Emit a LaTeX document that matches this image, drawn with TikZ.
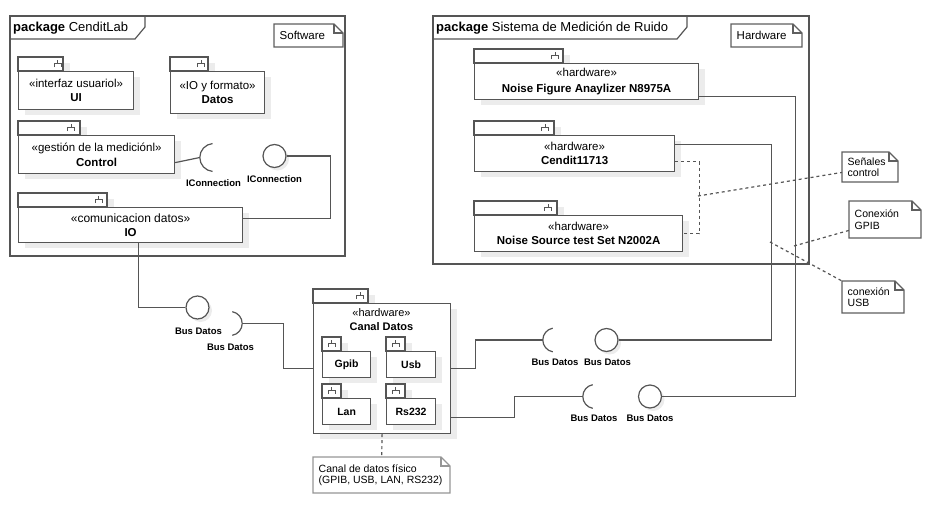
\documentclass[tikz,border=0pt]{standalone}
\usepackage{fontspec}
\setmainfont{Liberation Sans}
\usetikzlibrary{calc}
\definecolor{linec}{RGB}{85,85,85}
\definecolor{shadec}{RGB}{236,236,236}
\definecolor{notec}{RGB}{95,95,95}
\definecolor{notecl}{RGB}{150,150,150}
% component: name, x1, y1 (box top), x2, y2, tab right, icon x, text
\newcommand\mkcomp[8]{%
 \fill[shadec] (#2+7,#3-8) rectangle (#6+7,#3);
 \fill[shadec] (#2+7,#3+6) rectangle (#4+7,#5+6);
 \draw[frame,fill=white] (#2,#3-14) rectangle (#6,#3);
 \draw[iconst] (#7,#3-11) -- (#7,#3-8) (#7-3.5,#3-4) -- (#7-3.5,#3-8) -- (#7+3.5,#3-8) -- (#7+3.5,#3-4);
 \node[box,minimum width={(#4-#2)*1pt},minimum height={(#5-#3)*1pt},anchor=north west] (#1) at (#2,#3) {#8};}
% note: name, x1, y1, x2, y2, colour, text
\newcommand\mknote[7]{%
 \draw[draw=#6,line width=1.1pt,fill=white] (#2,#3) -- (#4-9,#3) -- (#4,#3+9) -- (#4,#5) -- (#2,#5) -- cycle;
 \draw[draw=#6,line width=1.1pt] (#4-9,#3) -- (#4-9,#3+9) -- (#4,#3+9);
 \node[inner sep=0,minimum width={(#4-#2)*1pt},minimum height={(#5-#3)*1pt},anchor=north west] (#1) at (#2,#3) {};
 \node[notetxt,anchor=west] (#1t) at (#2+5.5,{(#3+#5)/2}) {#7};}
\begin{document}
\begin{tikzpicture}[x=1pt,y=-1pt,
 frame/.style={draw=linec,line width=1.2pt},
 conn/.style={draw=linec,line width=1.2pt},
 dashc/.style={draw=linec,line width=1.2pt,dash pattern=on 3pt off 3pt},
 box/.style={draw=linec,line width=1.2pt,fill=white,inner sep=0pt,align=center,font=\fontsize{11.5}{14.5}\selectfont},
 iconst/.style={draw=linec,line width=1pt},
 lolli/.style={circle,draw=linec,line width=1.2pt,fill=white,minimum size=23pt,inner sep=0pt},
 sock/.style={circle,inner sep=0pt},
 lbl/.style={font=\fontsize{9.5}{11}\selectfont\bfseries,inner sep=0pt},
 notetxt/.style={font=\fontsize{10.5}{11.5}\selectfont,align=left,inner sep=0pt},
 ptitle/.style={anchor=west,inner sep=0pt,font=\fontsize{13}{15}\selectfont}]
\useasboundingbox (0,0) rectangle (936,506);
% packages
\draw[frame] (10,16) rectangle (345,256);
\draw[frame] (10,39) -- (135,39) -- (145,27) -- (145,16);
\node[ptitle] (pkgA) at (13,28) {\textbf{package} CenditLab};
\draw[frame] (433,16) rectangle (809,264);
\draw[frame] (433,39) -- (677,39) -- (687,27) -- (687,16);
\node[ptitle] (pkgB) at (436,28) {\textbf{package} Sistema de Medición de Ruido};
% notes
\mknote{nsoft}{274}{24}{343}{47}{notec}{\fontsize{11.5}{13}\selectfont Software}
\mknote{nhard}{731}{24}{802}{47}{notec}{\fontsize{11.5}{13}\selectfont Hardware}
\mknote{nsen}{842}{152}{898}{182}{notec}{Señales\\control}
\mknote{ngpib}{849}{201}{921}{238}{notec}{Conexión\\GPIB}
\mknote{nusb}{842}{281}{904}{313}{notec}{conexión\\USB}
\mknote{ncan}{313}{457}{450}{493}{notecl}{Canal de datos físico\\(GPIB, USB, LAN, RS232)}
% components
\mkcomp{ui}{18}{71}{133}{109}{63}{57.5}{«interfaz usuariol»\\\textbf{UI}}
\mkcomp{datos}{170}{71}{264}{113}{208}{201}{«IO y formato»\\\textbf{Datos}}
\mkcomp{ctrl}{18}{135}{174}{173}{80}{71}{«gestión de la mediciónl»\\\textbf{Control}}
\mkcomp{io}{18}{207}{242}{242}{107}{98.5}{\fontsize{12}{15}\selectfont«comunicacion datos»\\\textbf{IO}}
\mkcomp{nf}{474}{63}{698}{99}{563}{555}{«hardware»\\[1.5pt]\textbf{Noise Figure Anaylizer N8975A}}
\mkcomp{cend}{474}{135}{674}{171}{554}{545}{«hardware»\\\textbf{Cendit11713}}
\mkcomp{ns}{474}{215}{682}{251}{557}{548}{«hardware»\\\textbf{Noise Source test Set N2002A}}
\mkcomp{canal}{313}{303}{450}{433}{368}{360}{}
\node[align=center,inner sep=0pt,font=\fontsize{11}{13.5}\selectfont] (canaltxt) at (381.5,319.5) {«hardware»\\\textbf{Canal Datos}};
\mkcomp{gpib}{322}{351}{370}{377}{341}{331.5}{\fontsize{10.5}{12}\selectfont\textbf{Gpib}}
\mkcomp{usb}{386}{351}{435}{377}{405}{395.5}{\fontsize{10.5}{12}\selectfont\textbf{Usb}}
\mkcomp{lan}{322}{398}{370}{424}{341}{331.5}{\fontsize{10.5}{12}\selectfont\textbf{Lan}}
\mkcomp{rs}{386}{398}{435}{424}{405}{395.5}{\fontsize{10.5}{12}\selectfont\textbf{Rs232}}
% lollipops (provided interfaces)
\fill[shadec] (277.5,159) circle[radius=11.5pt];
\node[lolli] (l1) at (274.5,156) {};
\fill[shadec] (200.5,310.5) circle[radius=11.5pt];
\node[lolli] (l2) at (197.5,307.5) {};
\fill[shadec] (609.5,343) circle[radius=11.5pt];
\node[lolli] (l3) at (606.5,340) {};
\fill[shadec] (653,399.5) circle[radius=11.5pt];
\node[lolli] (l4) at (650,396.5) {};
% sockets (required interfaces)
\node[sock,minimum size=28pt] (s1) at (214,157.5) {};
\draw[conn] (s1.west) arc[start angle=180,end angle=95,radius=14pt] (s1.west) arc[start angle=180,end angle=265,radius=14pt];
\node[sock,minimum size=24pt] (s2) at (230,323.5) {};
\draw[conn] (s2.east) arc[start angle=0,end angle=80,radius=12pt] (s2.east) arc[start angle=0,end angle=-80,radius=12pt];
\node[sock,minimum size=24pt] (s3) at (555,340) {};
\draw[conn] (s3.west) arc[start angle=180,end angle=100,radius=12pt] (s3.west) arc[start angle=180,end angle=260,radius=12pt];
\node[sock,minimum size=24pt] (s4) at (595,396.5) {};
\draw[conn] (s4.west) arc[start angle=180,end angle=100,radius=12pt] (s4.west) arc[start angle=180,end angle=260,radius=12pt];
% connectors
\draw[conn] ($(ctrl.east)+(0,8)$) -- (s1.west);
\draw[conn] (l1.east) -- ++(44,0) |- ($(io.east)+(0,-6.5)$);
\draw[conn] ($(io.south)+(8,0)$) |- (l2.west);
\draw[conn] (s2.east) -- ++(41,0) |- (canal.west);
\draw[conn] (canal.east) -- ++(24,0) |- (s3.west);
\draw[conn] (l3.east) -| ($(cend.east)+(96,-9)$) -- ($(cend.east)+(0,-9)$);
\draw[conn] ($(canal.east)+(0,49)$) -- ++(63,0) |- (s4.west);
\draw[conn] (l4.east) -| ($(nf.east)+(96,15)$) -- ($(nf.east)+(0,15)$);
% dashed anchors
\draw[dashc] ($(cend.east)+(0,8)$) -| ($(ns.east)+(16,0)$) -- (ns.east);
\coordinate (d1) at (698,196);
\draw[dashc] (d1) -- ($(nsen.south west)+(0,-10)$);
\coordinate (d2) at (794,246);
\draw[dashc] (d2) -- ($(ngpib.south west)+(0,-8)$);
\coordinate (d3) at (770,242);
\draw[dashc] (d3) -- (nusb.north west);
\draw[dashc] (canal.south) -- (ncan.north);
% labels
\node[lbl] (lb1) at (213.5,183) {IConnection};
\node[lbl] (lb2) at (274.5,179) {IConnection};
\node[lbl] (lb3) at (198.5,331) {Bus Datos};
\node[lbl] (lb4) at (230.5,347) {Bus Datos};
\node[lbl] (lb5) at (555,362) {Bus Datos};
\node[lbl] (lb6) at (607.5,362) {Bus Datos};
\node[lbl] (lb7) at (594,418) {Bus Datos};
\node[lbl] (lb8) at (650,418) {Bus Datos};
\end{tikzpicture}
\end{document}
